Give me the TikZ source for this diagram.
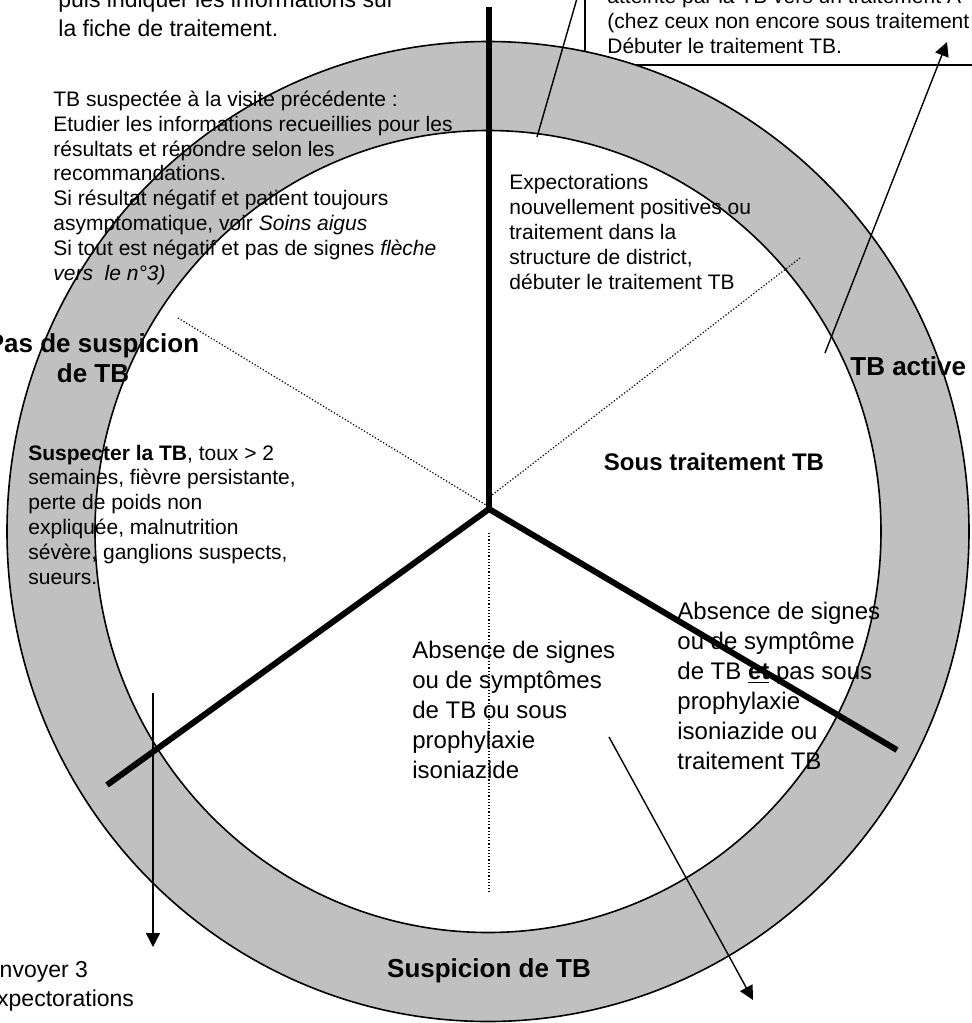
\documentclass[tikz,border=0pt]{standalone}
\usepackage{fontspec}
\setmainfont{Liberation Sans}
\usetikzlibrary{arrows.meta}

\definecolor{ringgray}{RGB}{192,192,192}

% les blocs de texte sont places par la ligne de base de leur derniere ligne
\tikzset{
  spoke/.style={line width=3pt},
  guide/.style={line width=0.6pt, dash pattern=on 0.6pt off 1pt},
  pointer/.style={line width=0.7pt, -{Triangle[length=7pt,width=7pt]}},
  note/.style={inner sep=0pt, anchor=base west, align=left, font=\fontsize{10.5}{12.4}\selectfont},
  bignote/.style={note, font=\fontsize{12}{15}\selectfont},
  sidenote/.style={note, font=\fontsize{11.5}{14.2}\selectfont},
  zone/.style={inner sep=0pt, anchor=base, align=center, font=\bfseries\fontsize{13}{15}\selectfont},
}

\begin{document}
\begin{tikzpicture}[x=0.5pt, y=-0.5pt]
  \useasboundingbox (0,0) rectangle (971,1023);

  % cadre en haut a droite (en partie sous l'anneau)
  \draw[line width=0.7pt] (585,-20) rectangle (990,65);

  % anneau
  \fill[ringgray] (488,531.5) ellipse [x radius=481, y radius=490];
  \fill[white] (488,531.5) ellipse [x radius=393, y radius=401];
  \draw[line width=0.8pt] (488,531.5) ellipse [x radius=481, y radius=490];
  \draw[line width=0.8pt] (488,531.5) ellipse [x radius=393, y radius=401];

  % points
  \coordinate (hub) at (489,509);
  \coordinate (spokeN) at (489,7);
  \coordinate (spokeSW) at (107,785);
  \coordinate (spokeSE) at (897,750);
  \coordinate (guideNW) at (178,318);
  \coordinate (guideNWend) at (486,505);
  \coordinate (guideNE) at (800,258);
  \coordinate (guideNEend) at (492,495);
  \coordinate (guideS) at (489,533);
  \coordinate (guideSend) at (489,892);

  % lignes pointillees
  \draw[guide] (guideNW) -- (guideNWend);
  \draw[guide] (guideNE) -- (guideNEend);
  \draw[guide] (guideS) -- (guideSend);

  % rayons
  \draw[spoke] (spokeN) -- (hub);
  \draw[spoke] (hub) -- (spokeSW);
  \draw[spoke] (hub) -- (spokeSE);

  % fleches
  \coordinate (activeFrom) at (825,353);
  \coordinate (activeTo) at (947,42);
  \coordinate (ringFrom) at (537,137);
  \coordinate (ringTo) at (580,-12);
  \coordinate (sendFrom) at (153,693);
  \coordinate (sendTo) at (153,947);
  \coordinate (absFrom) at (609,737);
  \coordinate (absTo) at (753,1000);
  \draw[pointer] (activeFrom) -- (activeTo);
  \draw[line width=0.7pt] (ringFrom) -- (ringTo);
  \draw[pointer] (sendFrom) -- (sendTo);
  \draw[pointer] (absFrom) -- (absTo);

  % textes
  \node[sidenote] (fiche) at (58,36) {puis indiquer les informations sur\\la fiche de traitement.};
  \node[note] (debuter) at (607,53) {atteinte par la TB vers un traitement A\\(chez ceux non encore sous traitement\\Débuter le traitement TB.};
  \node[note] (visite) at (53,280) {TB suspectée à la visite précédente :\\
    Etudier les informations recueillies pour les\\
    résultats et répondre selon les\\
    recommandations.\\
    Si résultat négatif et patient toujours\\
    asymptomatique, voir \textit{Soins aigus}\\
    Si tout est négatif et pas de signes \textit{flèche}\\
    \textit{vers\ \ le n°3)}};
  \node[note] (crachats) at (509,289) {Expectorations\\
    nouvellement positives ou\\
    traitement dans la\\
    structure de district,\\
    débuter le traitement TB};
  \node[note] (suspecter) at (28,584) {\textbf{Suspecter la TB}, toux > 2\\
    semaines, fièvre persistante,\\
    perte de poids non\\
    expliquée, malnutrition\\
    sévère, ganglions suspects,\\
    sueurs.};
  \node[bignote] (absence) at (412,778) {Absence de signes\\
    ou de symptômes\\
    de TB ou sous\\
    prophylaxie\\
    isoniazide};
  \node[bignote] (absenceEt) at (677,769) {Absence de signes\\
    ou de symptôme\\
    de TB \underline{\textbf{et}} pas sous\\
    prophylaxie\\
    isoniazide ou\\
    traitement TB};
  \node[sidenote] (envoyer) at (-16,1006) {Envoyer 3\\expectorations};

  % noms des zones
  \node[zone, font=\bfseries\fontsize{12}{14}\selectfont] (sousTraitement) at (714,470) {Sous traitement TB};
  \node[zone, anchor=base west] (active) at (850,375) {TB active};
  \node[zone] (pasSuspicion) at (93,382) {Pas de suspicion\\de TB};
  \node[zone] (suspicion) at (489,977) {Suspicion de TB};
\end{tikzpicture}
\end{document}
